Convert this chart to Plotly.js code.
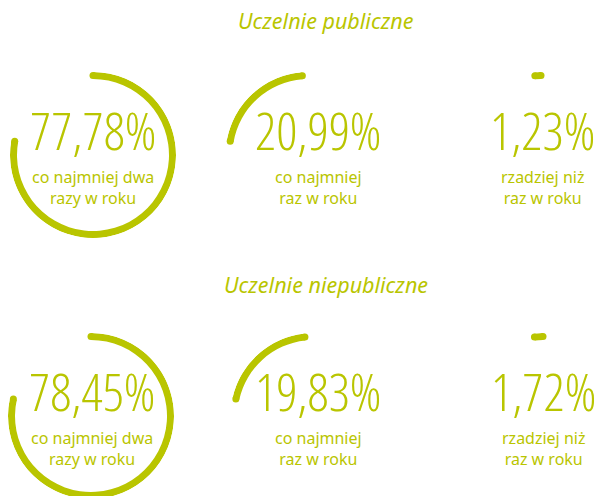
<!DOCTYPE html>
<html><head><meta charset="utf-8">
<script src="https://cdn.plot.ly/plotly-3.0.1.min.js"></script>
<style>
html,body{margin:0;padding:0;overflow:hidden;background:#fff;width:597px;height:496px;}
#chart{width:640px;height:500px;}
text.annotation-text[style*="Open Sans"]{font-stretch:75%;}
</style></head><body><div id="chart"></div>
<script>
// ---- data ----
const groupTitles = ['Uczelnie publiczne', 'Uczelnie niepubliczne'];
const pubValues = [77.78, 20.99, 1.23];
const niepubValues = [78.45, 19.83, 1.72];
const pubLabels = ['77,78%', '20,99%', '1,23%'];
const niepubLabels = ['78,45%', '19,83%', '1,72%'];
const descriptions = ['co najmniej dwa<br>razy w roku', 'co najmniej<br>raz w roku', 'rzadziej niż<br>raz w roku'];

// ---- layout constants ----
const W = 640, H = 500;   // page viewport (597x496) crops the overflow
const GREEN = '#b9c500';
const R_OUT = 83, STROKE = 7;
const centersX = [[93, 308.5, 541], [91, 313.5, 543]];
const centersY = [155, 416];
const numY = [129.5, 390.5];
const descY = [187.5, 448.5];
const titleY = [20, 284];
const textX = [[92.5, 318, 542], [91.5, 318, 543]];

const rows = [pubValues, niepubValues];
const rowLabels = [pubLabels, niepubLabels];

const traces = [];
const layout = {
  width: W, height: H,
  margin: {l: 0, r: 0, t: 0, b: 0},
  paper_bgcolor: '#ffffff',
  showlegend: false,
  annotations: []
};

let idx = 0;
rows.forEach((vals, r) => {
  let cum = 0;
  vals.forEach((v, c) => {
    idx++;
    const pid = idx === 1 ? 'polar' : 'polar' + idx;
    const start = cum * 3.6;
    const span = v * 3.6;
    cum += v;
    traces.push({
      type: 'barpolar', subplot: pid,
      r: [STROKE], base: [R_OUT - STROKE],
      theta: [start + span / 2], width: [span],
      marker: {color: GREEN, line: {width: 0}},
      hoverinfo: 'skip'
    });
    traces.push({
      type: 'scatterpolar', subplot: pid, mode: 'markers',
      r: [R_OUT - STROKE / 2, R_OUT - STROKE / 2],
      theta: [start, start + span],
      marker: {color: GREEN, size: STROKE, line: {width: 0}},
      cliponaxis: false,
      hoverinfo: 'skip'
    });
    const cx = centersX[r][c], cy = centersY[r];
    layout[pid] = {
      domain: {x: [(cx - R_OUT) / W, (cx + R_OUT) / W], y: [1 - (cy + R_OUT) / H, 1 - (cy - R_OUT) / H]},
      bgcolor: 'rgba(0,0,0,0)',
      radialaxis: {visible: false, range: [0, R_OUT]},
      angularaxis: {visible: false, rotation: 90, direction: 'clockwise'}
    };
    layout.annotations.push({
      text: rowLabels[r][c], xref: 'paper', yref: 'paper',
      x: textX[r][c] / W, y: 1 - numY[r] / H, xanchor: 'center', yanchor: 'middle',
      showarrow: false,
      font: {family: 'Open Sans', size: 52, weight: 300, color: GREEN}
    });
    layout.annotations.push({
      text: descriptions[c], xref: 'paper', yref: 'paper',
      x: textX[r][c] / W, y: 1 - descY[r] / H, xanchor: 'center', yanchor: 'middle',
      showarrow: false, align: 'center',
      font: {family: 'Noto Sans', size: 16, weight: 400, color: GREEN}
    });
  });
  layout.annotations.push({
    text: groupTitles[r], xref: 'paper', yref: 'paper',
    x: 326 / W, y: 1 - titleY[r] / H, xanchor: 'center', yanchor: 'middle',
    showarrow: false,
    font: {family: 'Noto Sans', size: 21.5, weight: 400, style: 'italic', color: GREEN}
  });
});

Plotly.newPlot('chart', traces, layout, {staticPlot: true, displayModeBar: false});
</script></body></html>
